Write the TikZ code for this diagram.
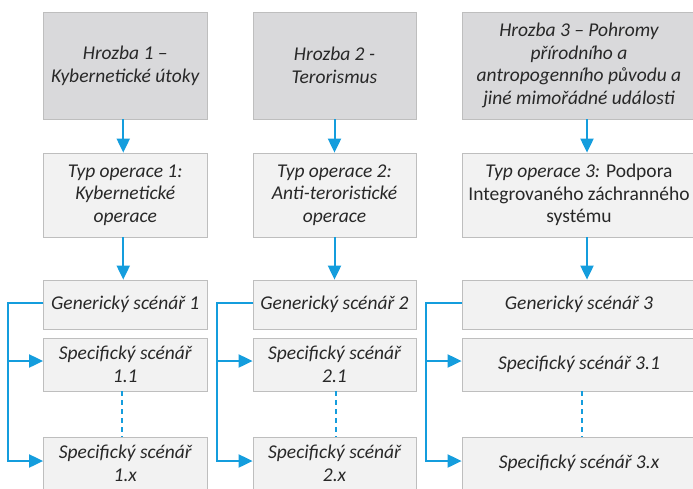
\documentclass[tikz,border=0pt]{standalone}
\usepackage{fontspec}
\setmainfont{Carlito}
\usetikzlibrary{arrows.meta,shadows,calc}
\definecolor{blu}{RGB}{20,157,221}
\definecolor{darkbox}{RGB}{217,217,219}
\definecolor{lightbox}{RGB}{242,242,242}
\definecolor{edge}{RGB}{190,190,190}
\definecolor{txt}{RGB}{40,40,40}
\newcommand{\up}[1]{{\upshape #1}}
\tikzset{
  base/.style={draw=edge, line width=0.8pt, align=center, text=txt,
    font=\fontsize{19.5}{22.7}\selectfont\itshape, inner sep=0pt,
    drop shadow={shadow xshift=1pt, shadow yshift=-1pt, fill=black, opacity=0.18}},
  hz/.style={base, fill=darkbox},
  lt/.style={base, fill=lightbox},
  conn/.style={blu, line width=2pt, -{Triangle[length=14pt,width=13pt]}},
  dsh/.style={blu, line width=2pt, dash pattern=on 5pt off 4pt},
}
\begin{document}
\begin{tikzpicture}[x=1pt,y=-1pt]
\useasboundingbox (0,0) rectangle (693,488);
\clip (0,0) rectangle (693,488);
\fill[white] (0,0) rectangle (693,488);
% column 1
\node[hz, minimum width=163.5pt, minimum height=107pt] (h1) at (125.25,65.5) {Hrozba 1 --\\Kybernetické útoky};
\node[lt, minimum width=163.5pt, minimum height=84pt] (t1) at (125.25,195) {Typ operace 1:\\Kybernetické\\operace};
\node[lt, minimum width=163.5pt, minimum height=49pt] (g1) at (125.25,304.5) {Generický scénář 1};
\node[lt, minimum width=163.5pt, minimum height=53pt] (s11) at (125.25,364.5) {Specifický scénář\\1.1};
\node[lt, minimum width=163.5pt, minimum height=52pt] (s1x) at (125.25,463) {Specifický scénář\\1.x};
% column 2
\node[hz, minimum width=163pt, minimum height=107pt] (h2) at (334.5,65.5) {Hrozba 2 -\\Terorismus};
\node[lt, minimum width=163pt, minimum height=84pt] (t2) at (334.5,195) {Typ operace 2:\\Anti-teroristické\\operace};
\node[lt, minimum width=163pt, minimum height=49pt] (g2) at (334.5,304.5) {Generický scénář 2};
\node[lt, minimum width=163pt, minimum height=53pt] (s21) at (334.5,364.5) {Specifický scénář\\2.1};
\node[lt, minimum width=163pt, minimum height=52pt] (s2x) at (334.5,463) {Specifický scénář\\2.x};
% column 3
\node[hz, minimum width=234pt, minimum height=107pt] (h3) at (579,65.5) {Hrozba 3 -- Pohromy\\přírodního a\\antropogenního původu a\\jiné mimořádné události};
\node[lt, minimum width=234pt, minimum height=84pt] (t3) at (579,195) {Typ operace 3: \up{Podpora}\\\up{Integrovaného záchranného}\\\up{systému}};
\node[lt, minimum width=234pt, minimum height=49pt] (g3) at (579,304.5) {Generický scénář 3};
\node[lt, minimum width=234pt, minimum height=53pt] (s31) at (579,364.5) {Specifický scénář 3.1};
\node[lt, minimum width=234pt, minimum height=52pt] (s3x) at (579,463) {Specifický scénář 3.x};
% vertical arrows
\draw[conn] ($(h1.south)+(-2,0)$) -- ($(t1.north)+(-2,0)$);
\draw[conn] ($(t1.south)+(-2,0)$) -- ($(g1.north)+(-2,0)$);
\draw[conn] (h2.south) -- (t2.north);
\draw[conn] (t2.south) -- (g2.north);
\draw[conn] ($(h3.south)+(8,0)$) -- ($(t3.north)+(8,0)$);
\draw[conn] ($(t3.south)+(8,0)$) -- ($(g3.north)+(8,0)$);
% dashed
\draw[dsh] ($(s11.south)+(-3,0)$) -- ($(s1x.north)+(-3,0)$);
\draw[dsh] ($(s21.south)+(1.5,0)$) -- ($(s2x.north)+(1.5,0)$);
\draw[dsh] ($(s31.south)+(3,0)$) -- ($(s3x.north)+(3,0)$);
% brackets
\draw[conn] ($(g1.west)+(0,-1.5)$) -- ++(-35.5,0) |- ($(s11.west)+(0,-3.5)$);
\draw[conn] ($(g1.west)+(0,-1.5)$) -- ++(-35.5,0) |- ($(s1x.west)+(0,-2)$);
\draw[conn] ($(g2.west)+(0,-1.5)$) -- ++(-36,0) |- ($(s21.west)+(0,-3.5)$);
\draw[conn] ($(g2.west)+(0,-1.5)$) -- ++(-36,0) |- ($(s2x.west)+(0,-2)$);
\draw[conn] ($(g3.west)+(0,-1.5)$) -- ++(-36,0) |- ($(s31.west)+(0,-3.5)$);
\draw[conn] ($(g3.west)+(0,-1.5)$) -- ++(-36,0) |- ($(s3x.west)+(0,-2)$);
\end{tikzpicture}
\end{document}
